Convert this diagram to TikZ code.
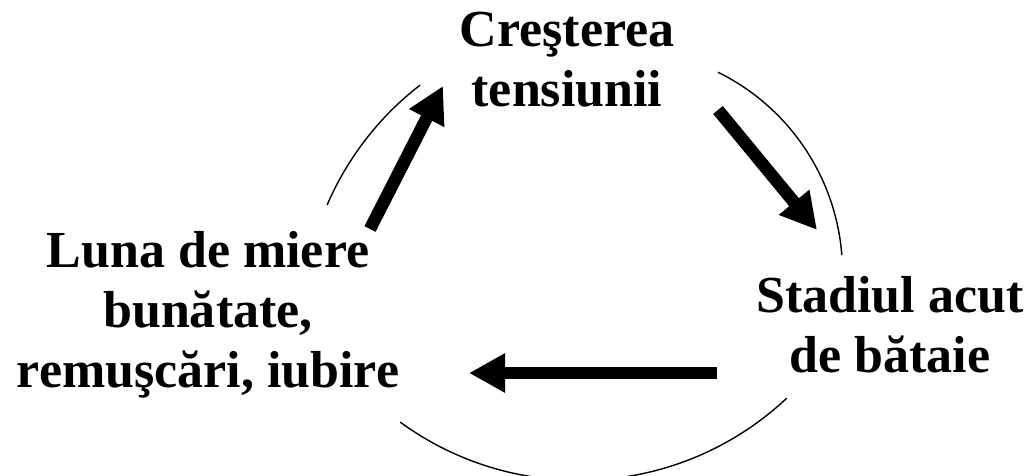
\documentclass[tikz,border=0pt]{standalone}
\usepackage{fontspec}
\setmainfont{Liberation Serif}
\usetikzlibrary{arrows.meta}
\tikzset{
  lbl/.style={font=\bfseries\fontsize{52bp}{60bp}\selectfont, align=center, inner sep=0pt, anchor=base},
  cyc/.style={line width=1.4bp, black},
  bigarrow/.style={line width=12.5bp, -{Triangle[length=36bp,width=37bp]}}
}
\begin{document}
\begin{tikzpicture}[x=1bp,y=1bp]
\clip (0,0) rectangle (1034,-476);
\useasboundingbox (0,0) rectangle (1034,-476);
% labels (anchor base = baseline of last line)
\node[lbl] (top) at (567,-107) {Creşterea\\tensiunii};
\node[lbl] (left) at (208,-388) {Luna de miere\\bunătate,\\remuşcări, iubire};
\node[lbl] (right) at (890,-373) {Stadiul acut\\de bătaie};
% cycle arcs
\draw[cyc] ([shift={(605.4,-324.8)}]156.7:303) arc[start angle=156.7, end angle=127.7, radius=303];
\draw[cyc] ([shift={(619.5,-272.3)}]63.8:223) arc[start angle=63.8, end angle=4.4, radius=223];
\draw[cyc] ([shift={(579,-176.8)}]233.9:303.6) arc[start angle=233.9, end angle=313.2, radius=303.6];
% arrows
\coordinate (a1s) at (370,-229);
\coordinate (a1e) at (443,-86);
\coordinate (a2s) at (718,-110);
\coordinate (a2e) at (817,-230);
\coordinate (a3s) at (717,-373);
\coordinate (a3e) at (469,-373);
\draw[bigarrow] (a1s) -- (a1e);
\draw[bigarrow] (a2s) -- (a2e);
\draw[bigarrow] (a3s) -- (a3e);
\end{tikzpicture}
\end{document}
